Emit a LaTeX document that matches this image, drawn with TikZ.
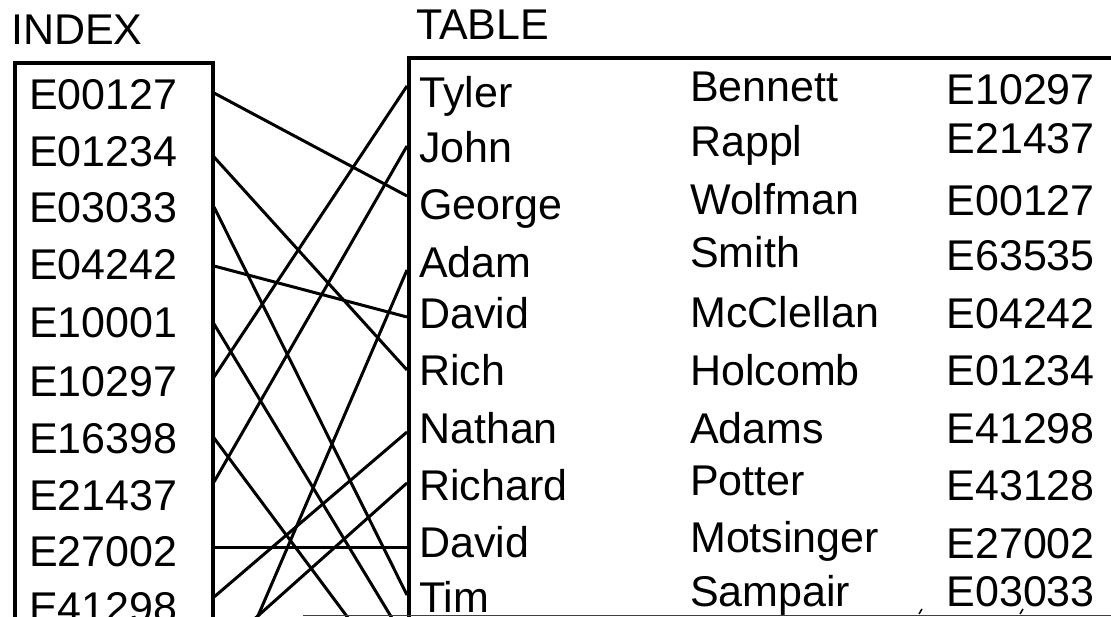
\documentclass[tikz,border=0pt]{standalone}
\usepackage{fontspec}
\setmainfont{Liberation Sans}

\tikzset{
  entry/.style={inner sep=0pt, anchor=base west, font=\fontsize{43}{48}\selectfont},
  ident/.style={entry, anchor=base east},
  frame/.style={line width=4pt},
  link/.style={line width=3pt},
}

\begin{document}
\begin{tikzpicture}[x=1pt,y=-1pt]
\useasboundingbox (0,0) rectangle (1111,617);
\clip (0,0) rectangle (1111,617);
% Titles
\node[entry] (indextitle) at (11,45) {INDEX};
\node[entry] (tabletitle) at (416,40) {TABLE};
% Index box
\draw[frame] (15,660) -- (15,63) -- (213,63) -- (213,660);
% Table box
\draw[frame] (409,660) -- (409,58) -- (1130,58);
% Index entries
\foreach \n/\id/\y in {1/E00127/110, 2/E01234/167, 3/E03033/223, 4/E04242/280,
    5/E10001/338, 6/E10297/396, 7/E16398/453, 8/E21437/510, 9/E27002/566, 10/E41298/622}
  \node[entry] (idx\n) at (29,\y) {\id};
% Table rows
\foreach \n/\first/\last/\id/\yf/\yl/\yi in {
    1/Tyler/Bennett/E10297/108/102/105,
    2/John/Rappl/E21437/163/157/154,
    3/George/Wolfman/E00127/220/215/216,
    4/Adam/Smith/E63535/278/268/271,
    5/David/McClellan/E04242/329/328/329,
    6/Rich/Holcomb/E01234/385/385/385,
    7/Nathan/Adams/E41298/443/443/443,
    8/Richard/Potter/E43128/500/495/500,
    9/David/Motsinger/E27002/557/552/558,
    10/Tim/Sampair/E03033/612/606/606} {
  \node[entry] (first\n) at (419,\yf) {\first};
  \node[entry] (last\n) at (690,\yl) {\last};
  \node[ident] (id\n) at (1095,\yi) {\id};
}
% Ports on both boxes (11 and 12 lie below the cut)
\foreach \n/\y in {1/93, 2/157, 3/207, 4/266, 5/324, 6/377, 7/438, 8/482,
    9/547, 10/597, 11/655, 12/718}
  \coordinate (ip\n) at (214,\y);
\foreach \n/\y in {1/86, 2/146, 3/196, 4/270, 5/317, 6/370, 7/432, 8/483,
    9/547, 10/595, 11/643, 12/697}
  \coordinate (tp\n) at (407,\y);
% Pointers from index to rows
\foreach \a/\b in {1/3, 2/6, 3/10, 4/5, 5/11, 6/1, 7/12, 8/2, 9/9, 10/7, 11/8, 12/4}
  \draw[link] (ip\a) -- (tp\b);
% Cut edge at the bottom
\draw[black!75, line width=1pt] (303,615.5) -- (1111,615.5);
\draw[line width=1.5pt] (919,614) -- (922,609);
\draw[line width=1.5pt] (1020,614) -- (1023,609);
\end{tikzpicture}
\end{document}
